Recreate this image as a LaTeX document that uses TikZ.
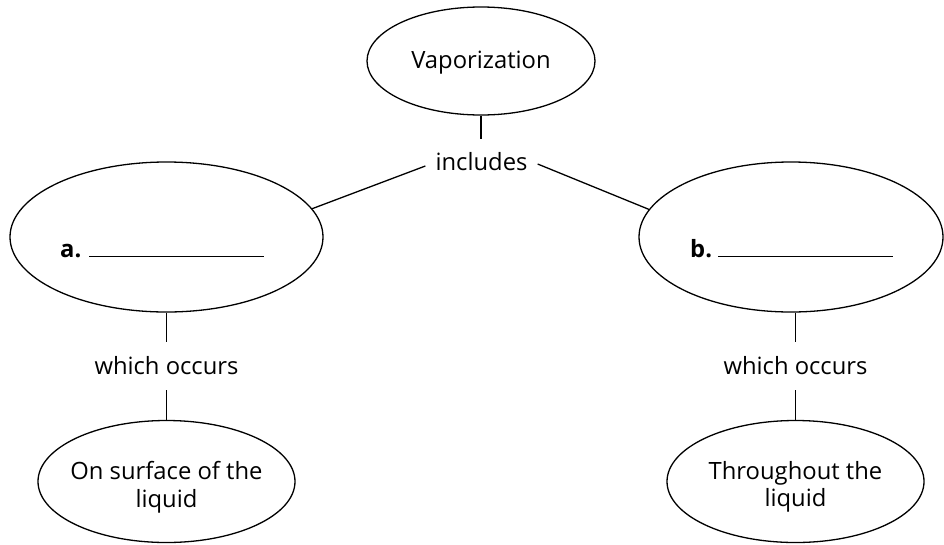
\documentclass[tikz,border=0pt]{standalone}
\usepackage{fontspec}
\setmainfont{Open Sans}
\usetikzlibrary{shapes.geometric,calc}
\begin{document}
\begin{tikzpicture}[x=1pt,y=-1pt,
  oval/.style={ellipse, draw, line width=1.3pt, inner sep=0pt},
  lbl/.style={inner sep=0pt, font=\fontsize{23.8}{27.5}\selectfont},
  link/.style={line width=1.3pt}]
\useasboundingbox[fill=white] (0,0) rectangle (944,544);
\node[oval, minimum width=228pt, minimum height=108pt] (vap) at (481,61) {};
\node[lbl] (vaptext) at (481,63) {Vaporization};
\node[lbl, minimum height=46pt, inner xsep=10pt] (inc) at (481.5,162) {includes};
\node[oval, minimum width=313pt, minimum height=150pt] (a) at (166.5,237) {};
\node[lbl, anchor=base west] (atext) at (60,257) {\makebox[29pt][l]{\bfseries a.}\rule{175pt}{1.2pt}};
\node[oval, minimum width=304pt, minimum height=150pt] (b) at (791,237) {};
\node[lbl, anchor=base west] (btext) at (690,257) {\makebox[28pt][l]{\bfseries b.}\rule{175pt}{1.2pt}};
\node[lbl, minimum height=48pt] (woa) at (166.5,366) {which occurs};
\node[lbl, minimum height=48pt] (wob) at (795.5,366) {which occurs};
\node[oval, minimum width=257pt, minimum height=122pt] (sa) at (166.5,481.5) {};
\node[lbl, align=center] (satext) at (166.5,487) {On surface of the\\liquid};
\node[oval, minimum width=257pt, minimum height=122pt] (sb) at (795.5,481.5) {};
\node[lbl, align=center] (sbtext) at (795.5,487) {Throughout the\\liquid};
\draw[link] (vap.south) -- (vap.south |- inc.north);
\draw[link] ($(inc.west)+(0,4)$) -- (a.11);
\draw[link] ($(inc.east)+(0,2)$) -- (b.169);
\draw[link] (a.south) -- (woa.north);
\draw[link] (woa.south) -- (sa.north);
\draw[link] (b.south -| wob.north) -- (wob.north);
\draw[link] (wob.south) -- (sb.north);
\end{tikzpicture}
\end{document}
